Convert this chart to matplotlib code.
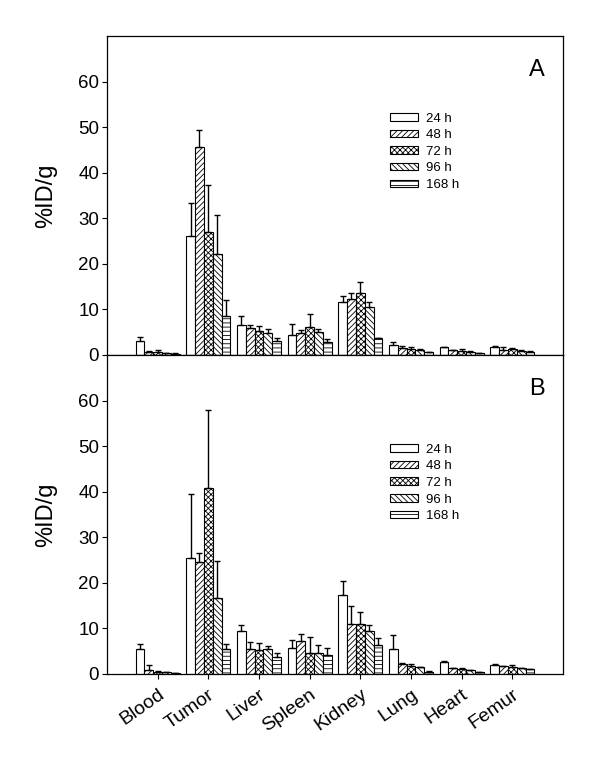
import numpy as np
import matplotlib
matplotlib.use("Agg")
import matplotlib.pyplot as plt

plt.rcParams['font.family'] = ['Liberation Sans', 'DejaVu Sans']
plt.rcParams['hatch.linewidth'] = 0.6

organs = ["Blood", "Tumor", "Liver", "Spleen", "Kidney", "Lung", "Heart", "Femur"]
times = ["24 h", "48 h", "72 h", "96 h", "168 h"]

# Panel A: mean %ID/g per organ, one list per time point
a_24 = [3.1, 26.0, 6.5, 4.4, 11.6, 2.3, 1.7, 1.75]
a_48 = [0.75, 45.6, 5.9, 4.8, 12.3, 1.5, 1.1, 1.1]
a_72 = [0.6, 26.9, 5.2, 6.1, 13.7, 1.3, 0.95, 1.25]
a_96 = [0.4, 22.1, 4.8, 5.0, 10.6, 1.1, 0.7, 0.95]
a_168 = [0.3, 8.5, 3.1, 2.8, 3.8, 0.6, 0.35, 0.7]
# Panel A: SD (upper error)
a_24_sd = [0.8, 7.4, 2.0, 2.3, 1.4, 0.5, 0.15, 0.15]
a_48_sd = [0.1, 3.8, 0.6, 0.7, 1.4, 0.5, 0.1, 0.7]
a_72_sd = [0.6, 10.3, 1.2, 2.8, 2.4, 0.45, 0.35, 0.2]
a_96_sd = [0.1, 8.6, 1.0, 0.8, 1.0, 0.3, 0.1, 0.1]
a_168_sd = [0.05, 3.6, 0.7, 0.7, 0.0, 0.1, 0.05, 0.1]

# Panel B
b_24 = [5.4, 25.5, 9.4, 5.8, 17.4, 5.5, 2.6, 2.0]
b_48 = [0.95, 24.5, 5.5, 7.3, 11.0, 2.1, 1.3, 1.8]
b_72 = [0.5, 40.8, 5.3, 4.5, 10.9, 1.75, 1.15, 1.6]
b_96 = [0.35, 16.7, 5.4, 4.5, 9.4, 1.45, 0.9, 1.3]
b_168 = [0.15, 5.5, 3.7, 4.2, 6.3, 0.5, 0.35, 1.0]
b_24_sd = [1.2, 13.9, 1.3, 1.6, 2.9, 3.1, 0.25, 0.25]
b_48_sd = [1.05, 2.0, 1.5, 1.5, 4.0, 0.4, 0.05, 0.05]
b_72_sd = [0.15, 17.2, 1.5, 3.6, 2.7, 0.35, 0.15, 0.4]
b_96_sd = [0.05, 8.1, 0.7, 1.9, 1.3, 0.15, 0.05, 0.05]
b_168_sd = [0.05, 1.1, 1.0, 1.6, 1.7, 0.05, 0.05, 0.05]

yticks = [0, 10, 20, 30, 40, 50, 60]

hatches = ['', '//////', 'xxxxxx', '\\\\\\\\\\\\', '----']

fig = plt.figure(figsize=(6.0, 7.59), dpi=100)
ax_a = fig.add_axes([0.1783, 0.5323, 0.76, 0.4203])
ax_b = fig.add_axes([0.1783, 0.1120, 0.76, 0.4203])

x = np.arange(1, len(organs) + 1)
w = 0.174

def draw(ax, means, sds, letter, leg_y):
    for i, (m, s) in enumerate(zip(means, sds)):
        pos = x + (i - 2) * w
        ax.bar(pos, m, width=w, color='white', edgecolor='black',
               linewidth=0.8, hatch=hatches[i], label=times[i], zorder=2)
        ax.errorbar(pos, m, yerr=[np.zeros(len(s)), s], fmt='none',
                    ecolor='black', elinewidth=1.0, capsize=2.5,
                    capthick=1.0, zorder=3)
    ax.set_xlim(0, 9)
    ax.set_ylim(0, 70)
    ax.set_yticks(yticks)
    ax.set_xticks(x)
    ax.tick_params(axis='both', direction='out', length=3.6, width=0.8,
                   labelsize=13.5, pad=2)
    for sp in ax.spines.values():
        sp.set_linewidth(0.9)
    ax.set_ylabel('%ID/g', fontsize=17)
    ax.yaxis.set_label_coords(-0.11, 0.5)
    ax.text(0.943, 0.893, letter, transform=ax.transAxes, fontsize=17,
            ha='center', va='center')
    ax.legend(loc='upper left', bbox_to_anchor=(0.62, leg_y), frameon=False,
              fontsize=9.5, handlelength=2.15, handleheight=0.5,
              handletextpad=0.58, labelspacing=0.35, borderpad=0,
              borderaxespad=0)

draw(ax_a, [a_24, a_48, a_72, a_96, a_168],
     [a_24_sd, a_48_sd, a_72_sd, a_96_sd, a_168_sd], 'A', 0.76)
draw(ax_b, [b_24, b_48, b_72, b_96, b_168],
     [b_24_sd, b_48_sd, b_72_sd, b_96_sd, b_168_sd], 'B', 0.722)

ax_a.set_xticklabels([])
ax_b.set_xticklabels(organs, rotation=35, ha='right', rotation_mode='anchor',
                     fontsize=14)
ax_b.tick_params(axis='x', pad=5)

fig.savefig('out.png', dpi=100)
